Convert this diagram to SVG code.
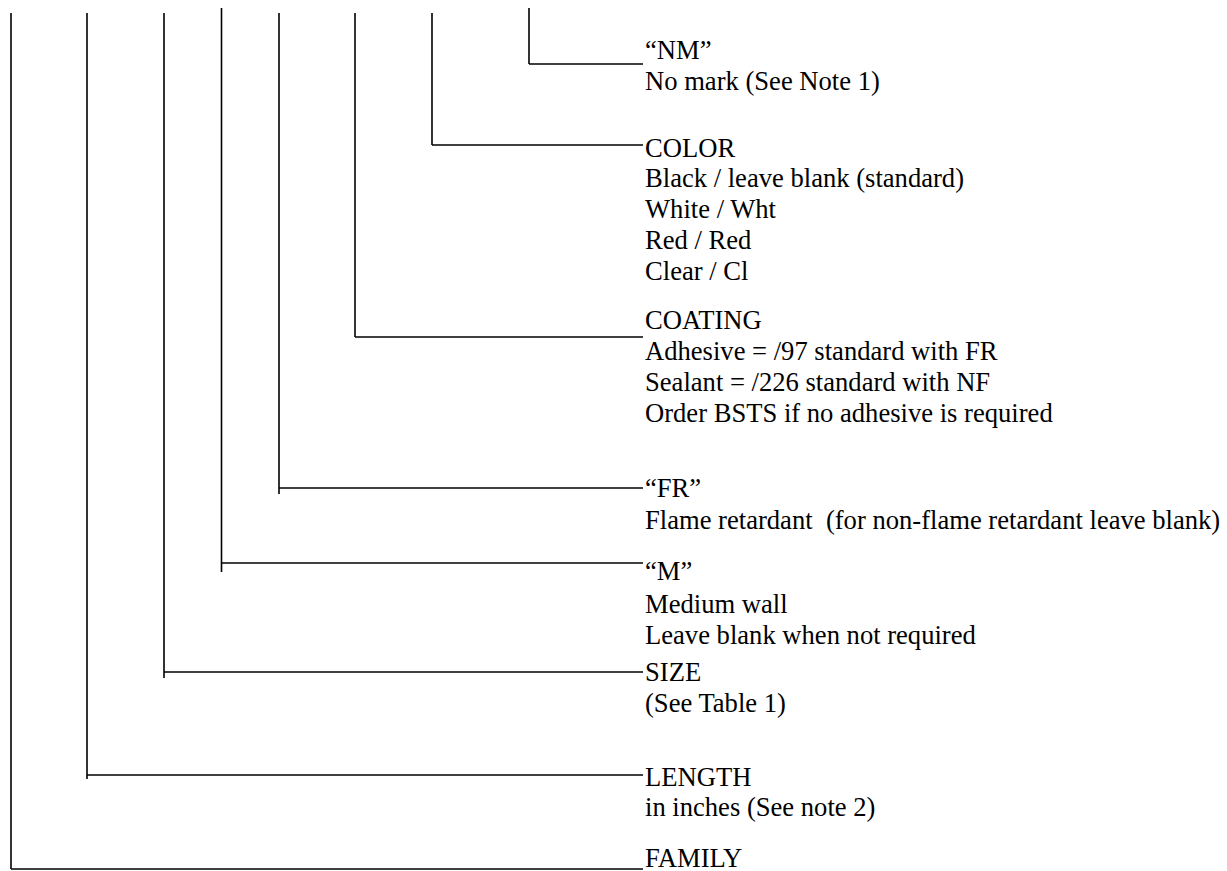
<svg xmlns="http://www.w3.org/2000/svg" width="1227" height="871" viewBox="0 0 1227 871">
<style>
.c line{stroke:#000;stroke-width:1.6;fill:none}
text{font-family:"Liberation Serif","Times New Roman",serif;font-size:26.6px;fill:#000}
</style>
<rect width="1227" height="871" fill="#fff"/>
<g id="connectors" class="c">
<line x1="529" y1="8" x2="529" y2="64"/><line x1="529" y1="64" x2="643" y2="64"/>
<line x1="432" y1="13" x2="432" y2="145"/><line x1="432" y1="145" x2="643" y2="145"/>
<line x1="355" y1="13" x2="355" y2="337"/><line x1="355" y1="337" x2="643" y2="337"/>
<line x1="279" y1="13" x2="279" y2="494"/><line x1="279" y1="488" x2="643" y2="488"/>
<line x1="221.5" y1="8" x2="221.5" y2="572"/><line x1="221.5" y1="563" x2="643" y2="563"/>
<line x1="164" y1="13" x2="164" y2="678"/><line x1="164" y1="672" x2="643" y2="672"/>
<line x1="87" y1="13" x2="87" y2="779"/><line x1="87" y1="775" x2="643" y2="775"/>
<line x1="11" y1="13" x2="11" y2="869"/><line x1="11" y1="869" x2="643" y2="869"/>
</g>
<g id="nm"><text x="645" y="59">“NM”</text><text x="645" y="90">No mark (See Note 1)</text></g>
<g id="color"><text x="645" y="157">COLOR</text><text x="645" y="187">Black / leave blank (standard)</text><text x="645" y="218">White / Wht</text><text x="645" y="249">Red / Red</text><text x="645" y="280">Clear / Cl</text></g>
<g id="coating"><text x="645" y="329">COATING</text><text x="645" y="360">Adhesive = /97 standard with FR</text><text x="645" y="391">Sealant = /226 standard with NF</text><text x="645" y="422">Order BSTS if no adhesive is required</text></g>
<g id="fr"><text x="645" y="497">“FR”</text><text x="645" y="529" xml:space="preserve">Flame retardant  (for non-flame retardant leave blank)</text></g>
<g id="m"><text x="645" y="580">“M”</text><text x="645" y="613">Medium wall</text><text x="645" y="644">Leave blank when not required</text></g>
<g id="size"><text x="645" y="681">SIZE</text><text x="645" y="712">(See Table 1)</text></g>
<g id="length"><text x="645" y="786">LENGTH</text><text x="645" y="816">in inches (See note 2)</text></g>
<g id="family"><text x="645" y="867">FAMILY</text></g>
</svg>
